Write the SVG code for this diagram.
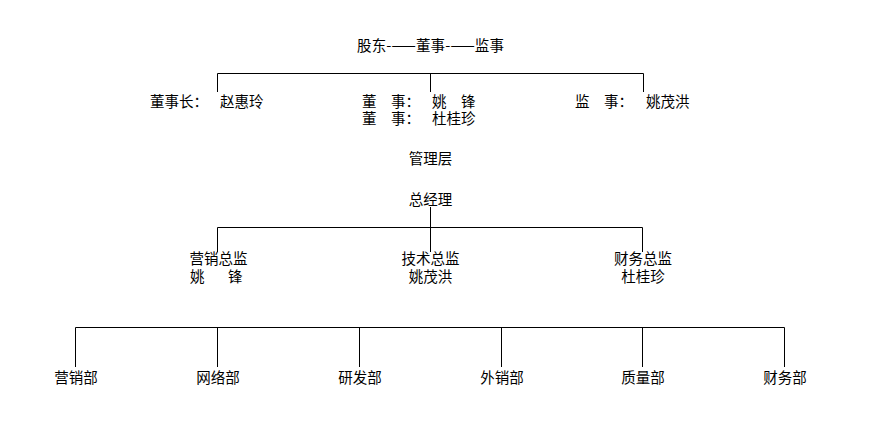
<svg xmlns="http://www.w3.org/2000/svg" width="872" height="445" viewBox="0 0 872 445">
<style>
text{font-family:"Noto Sans CJK SC","Liberation Sans",sans-serif;font-size:14.5px;fill:#000}
.c{text-anchor:middle}
.ln{stroke:#000;stroke-width:1;fill:none}
</style>
<rect width="872" height="445" fill="#fff"/>
<g id="connectors" class="ln">
<path d="M217.5 92V73.5H643.5V92M430.5 73.5V92"/>
<path d="M430.5 207V252M217.5 252V227.5H642.5V252"/>
<path d="M75.5 367V327.5H784.5V367M217.5 327.5V367M359.5 327.5V367M501.5 327.5V367M642.5 327.5V367"/>
</g>
<g id="title"><text class="c" x="430.5" y="51" textLength="147">股东-——董事-——监事</text></g>
<g id="chairman"><text x="150" y="107">董事长：</text><text x="220" y="107">赵惠玲</text></g>
<g id="directors"><text x="362" y="107">董　事：</text><text x="432" y="107">姚　锋</text><text x="362" y="124">董　事：</text><text x="432" y="124">杜桂珍</text></g>
<g id="supervisor"><text x="575" y="107">监　事：</text><text x="646" y="107">姚茂洪</text></g>
<g id="management"><text class="c" x="430.5" y="163.5">管理层</text></g>
<g id="gm"><text class="c" x="430.5" y="204.5">总经理</text></g>
<g id="marketing-director"><text class="c" x="218.5" y="263.5">营销总监</text><text x="190" y="281.5">姚<tspan x="228">锋</tspan></text></g>
<g id="tech-director"><text class="c" x="430.5" y="263.5">技术总监</text><text class="c" x="430.5" y="281.5">姚茂洪</text></g>
<g id="finance-director"><text class="c" x="643" y="263.5">财务总监</text><text class="c" x="643" y="281.5">杜桂珍</text></g>
<g id="dept-marketing"><text class="c" x="76" y="383">营销部</text></g>
<g id="dept-network"><text class="c" x="218" y="383">网络部</text></g>
<g id="dept-rd"><text class="c" x="360" y="383">研发部</text></g>
<g id="dept-export"><text class="c" x="502" y="383">外销部</text></g>
<g id="dept-quality"><text class="c" x="643" y="383">质量部</text></g>
<g id="dept-finance"><text class="c" x="785" y="383">财务部</text></g>
</svg>
